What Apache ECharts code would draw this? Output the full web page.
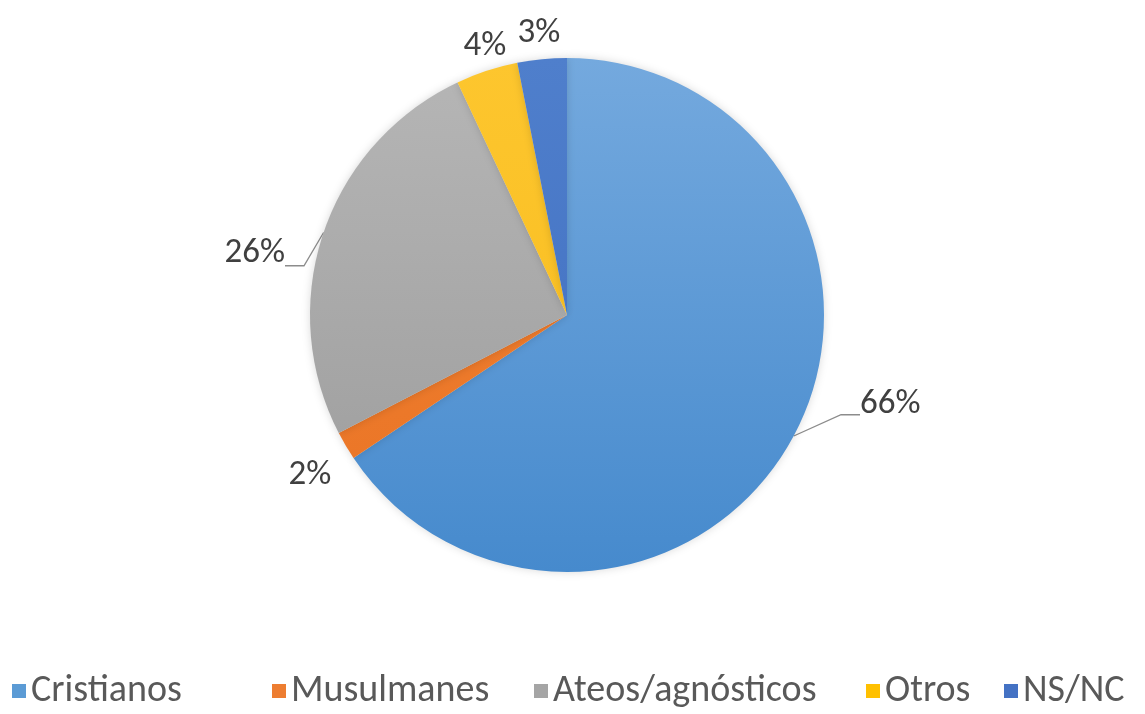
<!DOCTYPE html>
<html>
<head>
<meta charset="utf-8">
<script src="https://cdn.jsdelivr.net/npm/echarts@6/dist/echarts.min.js"></script>
<style>
html,body{margin:0;padding:0;background:#fff;}
#chart{width:1145px;height:714px;}
</style>
</head>
<body>
<div id="chart"></div>
<script>
const categories = ['Cristianos', 'Musulmanes', 'Ateos/agnósticos', 'Otros', 'NS/NC'];
const values = [65.6, 1.8, 25.6, 3.9, 3.1];

const FONT = 'Calibri, Carlito, Lato, "Open Sans", sans-serif';
const topColors = ['#74a9de', '#f08132', '#b6b6b6', '#fdc62e', '#4f7fcc'];
const botColors = ['#468acd', '#ea7425', '#9b9b9b', '#f7bb1c', '#3f6dbf'];
const legendColors = ['#5b9bd5', '#ed7d31', '#a5a5a5', '#ffc000', '#4472c4'];
const showLine = [true, false, true, false, false];

// layout (not data): pie geometry, label anchors, legend item positions
const CX = 567, CY = 315, R = 257;
const labelAnchor = [
  {x: 852, y: 413, align: 'left',   gap: 18, pad: [0, 8, 0, 8]},
  {x: 310, y: 475, align: 'center', gap: 0,  pad: [0, 0, 0, 0]},
  {x: 293, y: 264, align: 'right',  gap: 22, pad: [0, 8, 0, 8]},
  {x: 485, y: 46,  align: 'center', gap: 0,  pad: [0, 0, 0, 0]},
  {x: 539, y: 33,  align: 'center', gap: 0,  pad: [0, 0, 0, 0]}
];
const legendLeft = [12, 272, 534, 866, 1004];

const data = categories.map((name, i) => ({
  name: name,
  value: values[i],
  itemStyle: {
    color: {
      type: 'linear', x: 0, y: CY - R, x2: 0, y2: CY + R, global: true,
      colorStops: [{offset: 0, color: topColors[i]}, {offset: 1, color: botColors[i]}]
    }
  },
  label: {
    padding: labelAnchor[i].pad,
    formatter: p => labelAnchor[i].gap
      ? '{t|' + Math.round(p.value) + '%}\n{s| }'
      : '{t|' + Math.round(p.value) + '%}',
    rich: {
      t: { fontFamily: FONT, fontSize: 35, color: '#404040', lineHeight: 42 },
      s: { fontSize: 1, lineHeight: labelAnchor[i].gap, height: labelAnchor[i].gap }
    }
  },
  labelLine: { show: showLine[i] }
}));

const legends = categories.map((n, i) => ({
  left: legendLeft[i],
  top: 672,
  padding: 0,
  itemWidth: 14,
  itemHeight: 14,
  itemGap: 0,
  icon: 'rect',
  selectedMode: false,
  textStyle: { fontFamily: FONT, fontSize: 38, color: '#595959' },
  data: [{ name: n, itemStyle: { color: legendColors[i] } }]
}));

const chart = echarts.init(document.getElementById('chart'), null, {renderer: 'canvas'});
chart.setOption({
  backgroundColor: '#ffffff',
  animation: false,
  color: legendColors,
  legend: legends,
  series: [{
    type: 'pie',
    center: [CX, CY],
    radius: R,
    startAngle: 90,
    clockwise: true,
    avoidLabelOverlap: false,
    itemStyle: { borderWidth: 0, shadowBlur: 8, shadowColor: 'rgba(0,0,0,0.15)' },
    label: {
      show: true,
      position: 'outside',
      fontFamily: FONT,
      fontSize: 35,
      color: '#404040'
    },
    labelLine: {
      show: true,
      length: 20,
      length2: 19,
      smooth: false,
      lineStyle: { color: '#8c8c8c', width: 1.3 }
    },
    labelLayout: p => {
      const a = labelAnchor[p.dataIndex];
      return { x: a.x, y: a.y, align: a.align, verticalAlign: 'middle' };
    },
    emphasis: { disabled: true },
    data: data
  }]
});
</script>
</body>
</html>
